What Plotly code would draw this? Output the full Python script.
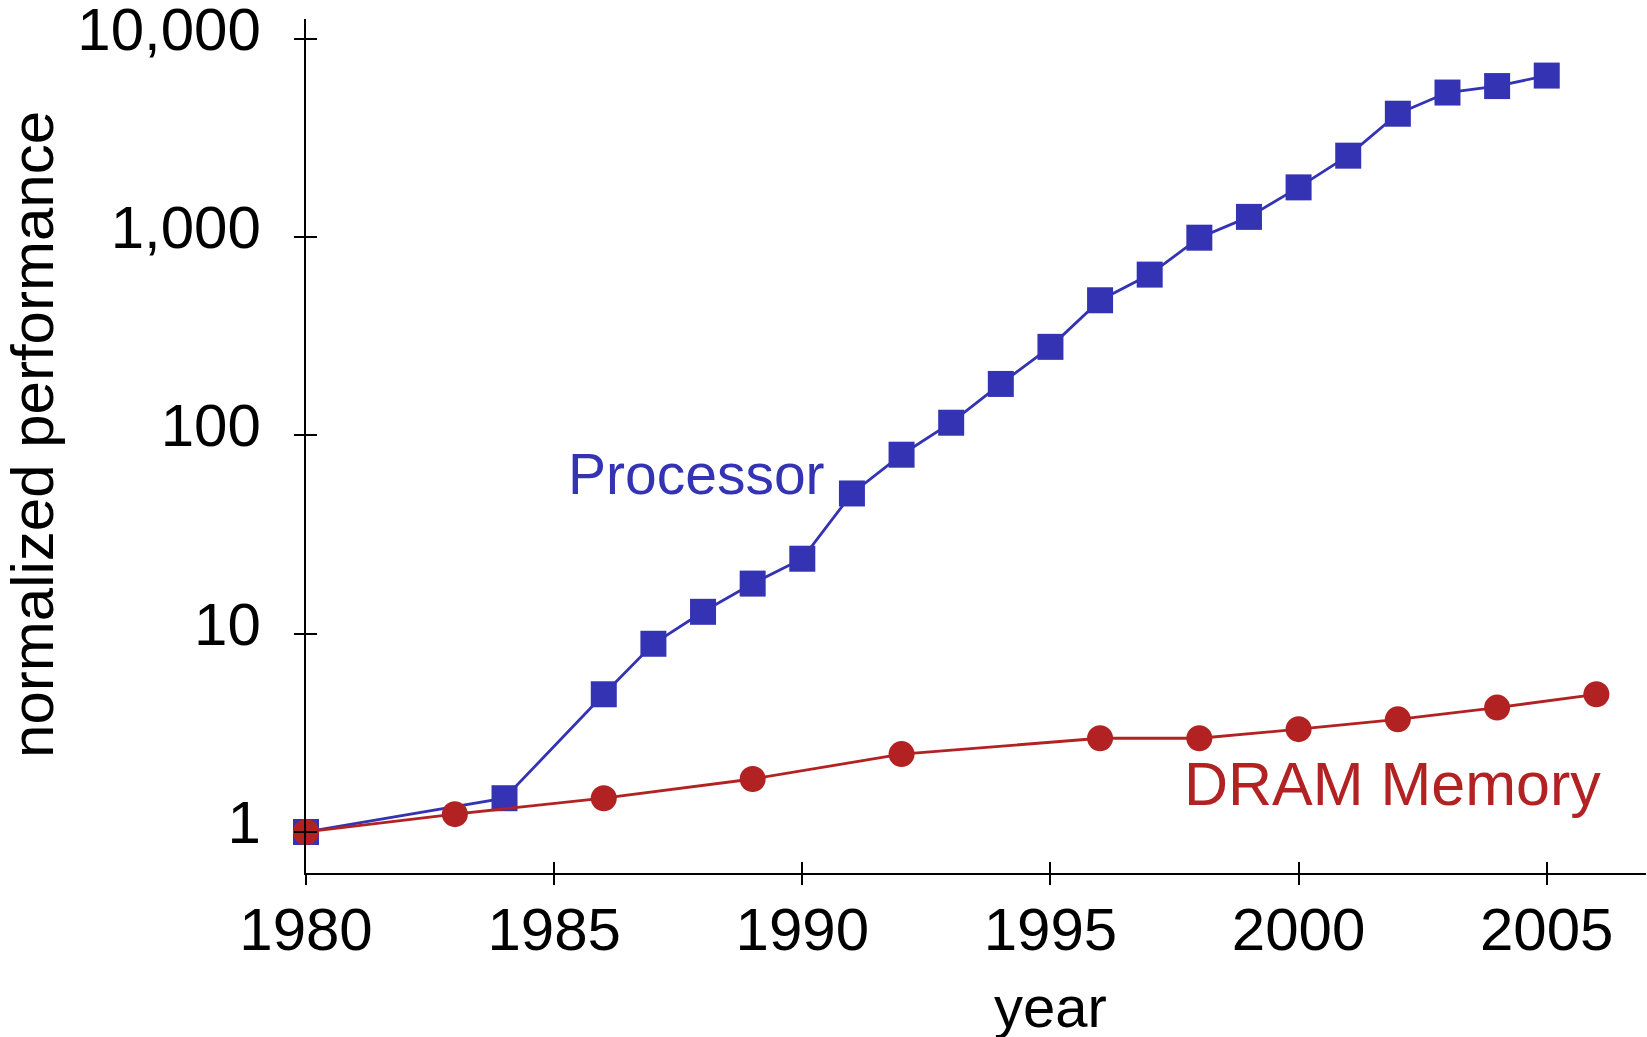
import plotly.graph_objects as go

proc_years = [1980, 1984, 1986, 1987, 1988, 1989, 1990, 1991, 1992, 1993, 1994, 1995,
              1996, 1997, 1998, 1999, 2000, 2001, 2002, 2003, 2004, 2005]
proc_perf = [1, 1.48, 4.95, 8.9, 12.9, 17.9, 23.9, 51, 80, 116, 182, 280,
             481, 648, 995, 1267, 1785, 2580, 4200, 5370, 5790, 6540]

dram_years = [1980, 1983, 1986, 1989, 1992, 1996, 1998, 2000, 2002, 2004, 2006]
dram_perf = [1, 1.23, 1.48, 1.85, 2.47, 2.97, 2.97, 3.30, 3.70, 4.24, 4.95]

x_ticks = [1980, 1985, 1990, 1995, 2000, 2005]
x_ticktext = ["1980", "1985", "1990", "1995", "2000", "2005"]
y_ticks = [1, 10, 100, 1000, 10000]
y_ticktext = ["1", "10", "100", "1,000", "10,000"]

BLUE = "#3333B3"
RED = "#B22222"
FONT = "Liberation Sans"
FS = 60

fig = go.Figure()
fig.add_trace(go.Scatter(x=proc_years, y=proc_perf, mode="lines+markers",
                         line=dict(color=BLUE, width=2.8),
                         marker=dict(symbol="square", size=26, color=BLUE),
                         cliponaxis=False, showlegend=False, name="Processor"))
fig.add_trace(go.Scatter(x=dram_years, y=dram_perf, mode="lines+markers",
                         line=dict(color=RED, width=2.8),
                         marker=dict(symbol="circle", size=26, color=RED),
                         cliponaxis=False, showlegend=False, name="DRAM Memory"))
# invisible trace to activate overlay axes (outer half of crossing ticks)
fig.add_trace(go.Scatter(x=[proc_years[0]], y=[proc_perf[0]], xaxis="x2", yaxis="y2",
                         mode="markers", marker=dict(opacity=0), hoverinfo="skip",
                         showlegend=False))

xr = [1980, 2007.0]
yr = [-0.207, 4.101]

common_tick = dict(ticklen=11, tickwidth=2, tickcolor="black", showgrid=False,
                   zeroline=False, automargin=False)

fig.update_layout(
    width=1647, height=1037,
    margin=dict(l=306, r=1, t=19, b=164, pad=0, autoexpand=False),
    paper_bgcolor="white", plot_bgcolor="white",
    font=dict(family=FONT, size=FS, color="black"),
    xaxis=dict(range=xr, tickvals=x_ticks, ticktext=x_ticktext, ticks="inside",
               showline=True, linewidth=2.4, linecolor="black",
               tickfont=dict(family=FONT, size=FS, color="black"),
               ticklabelstandoff=3, ticklabeloverflow="allow", **common_tick),
    yaxis=dict(type="log", range=yr, tickvals=y_ticks, ticktext=y_ticktext, ticks="inside",
               showline=True, linewidth=2.4, linecolor="black",
               tickfont=dict(family=FONT, size=FS, color="black"),
               ticklabelstandoff=31, ticklabelshift=-10, ticklabeloverflow="allow",
               **common_tick),
    xaxis2=dict(range=xr, overlaying="x", tickvals=x_ticks, ticks="outside",
                showticklabels=False, showline=False, **common_tick),
    yaxis2=dict(type="log", range=yr, overlaying="y", tickvals=y_ticks, ticks="outside",
                showticklabels=False, showline=False, **common_tick),
)

fig.add_annotation(x=1990.49, y=1.806, xref="x", yref="y", text="Processor",
                   showarrow=False, xanchor="right", yanchor="middle",
                   font=dict(family=FONT, size=57, color=BLUE))
fig.add_annotation(x=2006.13, y=0.241, xref="x", yref="y", text="DRAM Memory",
                   showarrow=False, xanchor="right", yanchor="middle",
                   font=dict(family=FONT, size=61, color=RED))
# axis titles
fig.add_annotation(x=1995, y=-0.156, xref="x", yref="paper", text="year",
                   showarrow=False, xanchor="center", yanchor="middle",
                   font=dict(family=FONT, size=58, color="black"))
fig.add_annotation(x=-0.2037, y=0.513, xref="paper", yref="paper", text="normalized performance",
                   textangle=-90, showarrow=False, xanchor="center", yanchor="middle",
                   font=dict(family=FONT, size=FS, color="black"))

fig.write_html("out.html")
